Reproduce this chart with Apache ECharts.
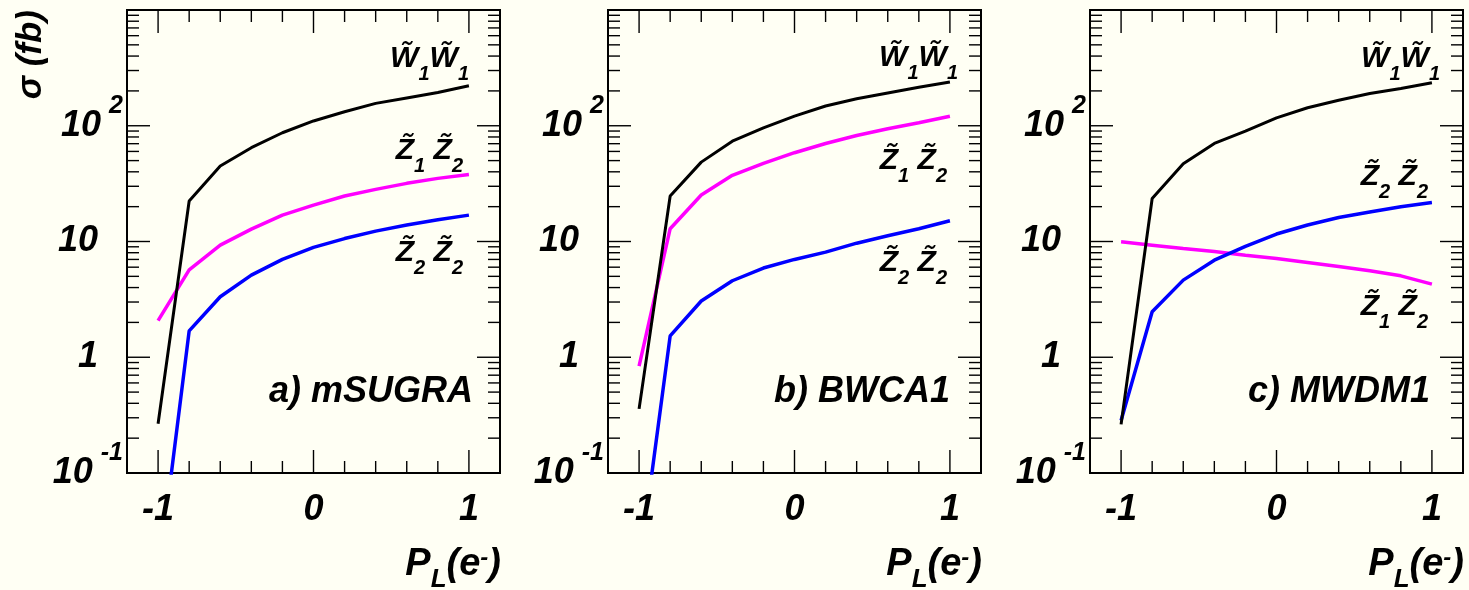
<!DOCTYPE html>
<html><head><meta charset="utf-8">
<script src="https://cdn.jsdelivr.net/npm/echarts@6/dist/echarts.min.js"></script>
<style>html,body{margin:0;padding:0;background:#fffff4;}#c{width:1469px;height:590px;}</style>
</head><body><div id="c"></div>
<script>
// ---- data ----
const polarization = [-1, -0.8, -0.6, -0.4, -0.2, 0, 0.2, 0.4, 0.6, 0.8, 1];
const panelNames = ['a) mSUGRA', 'b) BWCA1', 'c) MWDM1'];
// panel a) mSUGRA
const w1w1_a = [0.266, 22.4, 44.9, 64.6, 87, 110, 132, 156, 174, 194, 222];
const z1z2_a = [2.07, 5.69, 9.3, 12.8, 16.9, 20.6, 24.7, 28.2, 31.8, 35.1, 38];
const z2z2_a = [0.012, 1.69, 3.33, 5.12, 7.0, 8.9, 10.6, 12.3, 13.9, 15.4, 16.9];
// panel b) BWCA1
const w1w1_b = [0.358, 24.7, 48.5, 73.6, 96, 121, 148, 171, 192, 215, 239];
const z1z2_b = [0.84, 12.9, 25.2, 37.3, 47.3, 58.5, 70.3, 82.4, 94.2, 106, 121];
const z2z2_b = [0.0146, 1.53, 3.06, 4.58, 5.9, 7.0, 8.1, 9.67, 11.2, 12.9, 15.1];
// panel c) MWDM1
const w1w1_c = [0.263, 23.5, 47, 70.3, 89.8, 117, 143, 166, 190, 210, 235];
const z1z2_c = [9.93, 9.3, 8.7, 8.2, 7.6, 7.13, 6.59, 6.09, 5.58, 5.05, 4.28];
const z2z2_c = [0.284, 2.47, 4.64, 6.9, 9.06, 11.6, 13.9, 16.1, 18.0, 20.0, 21.7];
const xTickLabels = ['-1', '0', '1'];
const yDecadeLabels = {'-1': '{b|10}{s|-1}', '0': '{b|1}{g| }', '1': '{b|10}{g| }', '2': '{b|10}{s|2}', '3': ''};

// ---- layout ----
const FF = '"Liberation Sans", Arial, Helvetica, sans-serif';
const gridLefts = [127, 608, 1090];
const GW = 373, GT = 10, GH = 463;
const XMIN = -1.2, XMAX = 1.2, YMIN = 0.1, YMAX = 1000;

const panels = [
  {w: w1w1_a, z12: z1z2_a, z22: z2z2_a},
  {w: w1w1_b, z12: z1z2_b, z22: z2z2_b},
  {w: w1w1_c, z12: z1z2_c, z22: z2z2_c}
];

function pairs(ys) { return polarization.map((x, i) => [x, ys[i]]); }

function tickData() {
  const d = [];
  for (let e = -1; e <= 2; e++) for (let m = 1; m <= 9; m++) d.push([XMIN, m * Math.pow(10, e), m === 1 ? 23 : 12, 0]);
  for (let k = -5; k <= 5; k++) d.push([k / 5, 1, k % 5 === 0 ? 23 : 12, 1]);
  return d;
}
function renderTick(params, api) {
  const v0 = api.value(0), v1 = api.value(1), len = api.value(2), o = api.value(3);
  const st = {stroke: '#000', lineWidth: 1.4};
  let a, b, l1, l2;
  if (o === 0) {
    a = api.coord([XMIN, v1]); b = api.coord([XMAX, v1]);
    l1 = {x1: a[0], y1: a[1], x2: a[0] + len, y2: a[1]};
    l2 = {x1: b[0], y1: b[1], x2: b[0] - len, y2: b[1]};
  } else {
    a = api.coord([v0, YMIN]); b = api.coord([v0, YMAX]);
    l1 = {x1: a[0], y1: a[1], x2: a[0], y2: a[1] - len};
    l2 = {x1: b[0], y1: b[1], x2: b[0], y2: b[1] + len};
  }
  return {type: 'group', children: [{type: 'line', shape: l1, style: st}, {type: 'line', shape: l2, style: st}]};
}

const grids = [], xAxes = [], yAxes = [], series = [];
const labelFont = {fontFamily: FF, fontWeight: 'bold', fontStyle: 'italic', color: '#000'};
gridLefts.forEach((gl, i) => {
  grids.push({left: gl, top: GT, width: GW, height: GH, show: true, borderColor: '#000', borderWidth: 2, backgroundColor: 'transparent'});
  xAxes.push({type: 'value', gridIndex: i, min: XMIN, max: XMAX, interval: 0.2,
    axisLine: {show: false}, axisTick: {show: false}, splitLine: {show: false},
    axisLabel: Object.assign({fontSize: 36, margin: 19, formatter: v => {
      const r = Math.round(v);
      return (Math.abs(v - r) < 1e-6 && Math.abs(r) <= 1) ? xTickLabels[r + 1] : '';
    }}, labelFont)});
  yAxes.push({type: 'log', logBase: 10, gridIndex: i, min: YMIN, max: YMAX,
    axisLine: {show: false}, axisTick: {show: false}, splitLine: {show: false},
    axisLabel: {margin: 4, formatter: v => yDecadeLabels[String(Math.round(Math.log10(v)))] || '',
      rich: {
        b: Object.assign({fontSize: 36, lineHeight: 64}, labelFont),
        s: Object.assign({fontSize: 25, lineHeight: 25, verticalAlign: 'top', padding: [0, 0, 0, 8]}, labelFont),
        g: {width: 25, fontSize: 10, lineHeight: 10}
      }}});
  const p = panels[i];
  series.push({type: 'line', xAxisIndex: i, yAxisIndex: i, data: pairs(p.z12), showSymbol: false, silent: true,
    lineStyle: {color: '#ff00ff', width: 3.5}, itemStyle: {color: '#ff00ff'}});
  series.push({type: 'line', xAxisIndex: i, yAxisIndex: i, data: pairs(p.z22), showSymbol: false, silent: true,
    lineStyle: {color: '#0000ff', width: 3.5}, itemStyle: {color: '#0000ff'}});
  series.push({type: 'line', xAxisIndex: i, yAxisIndex: i, data: pairs(p.w), showSymbol: false, silent: true,
    lineStyle: {color: '#000', width: 3}, itemStyle: {color: '#000'}});
  series.push({type: 'custom', xAxisIndex: i, yAxisIndex: i, data: tickData(), renderItem: renderTick, silent: true, z: 5,
    encode: {x: 0, y: 1}});
});

// ---- annotations ----
const T = '\u0303';
const richSL = {
  m: Object.assign({fontSize: 30, lineHeight: 30, verticalAlign: 'top'}, labelFont),
  s: Object.assign({fontSize: 20, lineHeight: 60, verticalAlign: 'middle'}, labelFont)
};
const W11 = '{m|W' + T + '}{s|1}{m|W' + T + '}{s|1}';
const Z12 = '{m|Z' + T + '}{s|1}{m| Z' + T + '}{s|2}';
const Z22 = '{m|Z' + T + '}{s|2}{m| Z' + T + '}{s|2}';
// [text, right x, cap-centre y]
const seriesLabels = [
  [W11, 469, 60], [Z12, 463, 152], [Z22, 463, 254],
  [W11, 958, 59], [Z12, 947, 162], [Z22, 947, 264],
  [W11, 1440, 60], [Z22, 1428, 178], [Z12, 1428, 308]
];
const graphics = seriesLabels.map(s => ({type: 'text', x: s[1], y: s[2] - 16, z: 10,
  style: {text: s[0], rich: richSL, textAlign: 'right', textVerticalAlign: 'top'}}));
const panelLabelPos = [[473, 392], [950, 392], [1430, 392]];
panelNames.forEach((n, i) => graphics.push({type: 'text', x: panelLabelPos[i][0], y: panelLabelPos[i][1], z: 10,
  style: {text: n, fontSize: 36, fontFamily: FF, fontWeight: 'bold', fontStyle: 'italic',
    textAlign: 'right', textVerticalAlign: 'middle', fill: '#000'}}));
graphics.push({type: 'text', x: 31, y: 10, rotation: Math.PI / 2, z: 10,
  style: {text: '\u03c3 (fb)', fontSize: 35, fontFamily: FF, fontWeight: 'bold', fontStyle: 'italic',
    fill: '#000', textAlign: 'right', textVerticalAlign: 'middle'}});
const richPL = {
  p: Object.assign({fontSize: 38, lineHeight: 38, verticalAlign: 'top'}, labelFont),
  l: Object.assign({fontSize: 26, lineHeight: 68, verticalAlign: 'middle'}, labelFont),
  u: Object.assign({fontSize: 24, lineHeight: 24, verticalAlign: 'top'}, labelFont)
};
[501, 982, 1464].forEach(xr => graphics.push({type: 'text', x: xr, y: 546, z: 10,
  style: {text: '{p|P}{l|L}{p|(e}{u|-}{p|)}', rich: richPL, textAlign: 'right', textVerticalAlign: 'top'}}));

const chart = echarts.init(document.getElementById('c'), null, {renderer: 'canvas'});
chart.setOption({
  backgroundColor: '#fffff4',
  animation: false,
  grid: grids, xAxis: xAxes, yAxis: yAxes, series: series, graphic: graphics
});
</script></body></html>
